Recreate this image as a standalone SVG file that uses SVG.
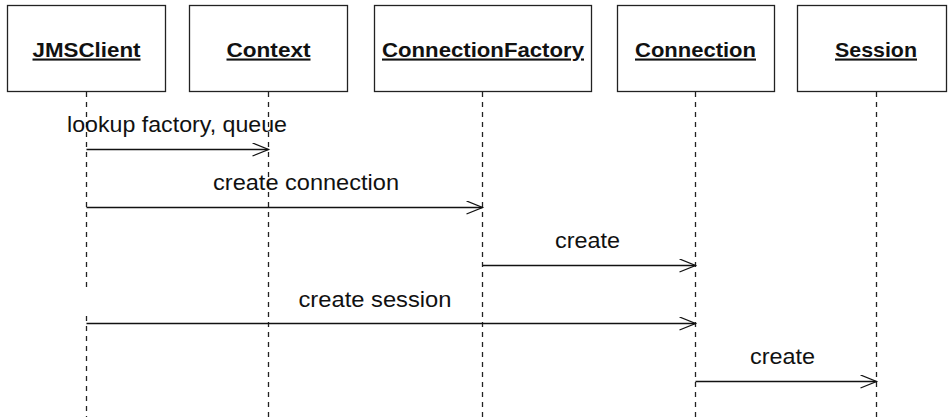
<svg xmlns="http://www.w3.org/2000/svg" width="948" height="417" viewBox="0 0 948 417">
<defs>
<style>
.box{fill:#fff;stroke:#222;stroke-width:1.3}
.title{font-family:"Liberation Sans",Arial,sans-serif;font-weight:bold;font-size:21px;fill:#111;text-anchor:middle;text-decoration:underline}
.life{stroke:#222;stroke-width:1.3;stroke-dasharray:5 5;fill:none}
.msg{stroke:#111;stroke-width:1.3;fill:none;marker-end:url(#open)}
.lbl{font-family:"Liberation Sans",Arial,sans-serif;font-size:22px;fill:#111;text-anchor:middle}
</style>
<marker id="open" markerUnits="userSpaceOnUse" markerWidth="20" markerHeight="16" refX="17" refY="7" orient="auto">
<path d="M1,0.5 L17,7 L1,13.5" fill="none" stroke="#111" stroke-width="1.3"/>
</marker>
</defs>
<rect width="948" height="417" fill="#fff"/>
<g id="lifelines">
<path class="life" d="M86.5,92 V289 M86.5,316 V417"/>
<path class="life" d="M268.5,92 V417"/>
<path class="life" d="M482.5,92 V417"/>
<path class="life" d="M695.5,92 V417"/>
<path class="life" d="M876.5,92 V417"/>
</g>
<g id="node-jmsclient">
<rect class="box" x="7.5" y="5.5" width="158" height="86"/>
<text class="title" x="86.5" y="56.5" textLength="108" lengthAdjust="spacingAndGlyphs">JMSClient</text>
</g>
<g id="node-context">
<rect class="box" x="189.5" y="5.5" width="158" height="86"/>
<text class="title" x="268.5" y="56.5" textLength="84" lengthAdjust="spacingAndGlyphs">Context</text>
</g>
<g id="node-connectionfactory">
<rect class="box" x="374.5" y="5.5" width="217" height="86"/>
<text class="title" x="483" y="56.5" textLength="202" lengthAdjust="spacingAndGlyphs">ConnectionFactory</text>
</g>
<g id="node-connection">
<rect class="box" x="617.5" y="5.5" width="157" height="86"/>
<text class="title" x="695.5" y="56.5" textLength="121" lengthAdjust="spacingAndGlyphs">Connection</text>
</g>
<g id="node-session">
<rect class="box" x="797.5" y="5.5" width="149" height="86"/>
<text class="title" x="876" y="56.5" textLength="82" lengthAdjust="spacingAndGlyphs">Session</text>
</g>
<g id="connectors">
<line class="msg" x1="86.5" y1="149.5" x2="268.5" y2="149.5"/>
<text class="lbl" x="177" y="131.5" textLength="220" lengthAdjust="spacingAndGlyphs">lookup factory, queue</text>
<line class="msg" x1="86.5" y1="207.5" x2="482.5" y2="207.5"/>
<text class="lbl" x="306" y="190" textLength="186" lengthAdjust="spacingAndGlyphs">create connection</text>
<line class="msg" x1="482.5" y1="265.5" x2="695.5" y2="265.5"/>
<text class="lbl" x="587.5" y="248" textLength="65" lengthAdjust="spacingAndGlyphs">create</text>
<line class="msg" x1="86.5" y1="323.5" x2="695.5" y2="323.5"/>
<text class="lbl" x="375" y="306.5" textLength="153" lengthAdjust="spacingAndGlyphs">create session</text>
<line class="msg" x1="695.5" y1="381.5" x2="876.5" y2="381.5"/>
<text class="lbl" x="782.5" y="364" textLength="65" lengthAdjust="spacingAndGlyphs">create</text>
</g>
</svg>
